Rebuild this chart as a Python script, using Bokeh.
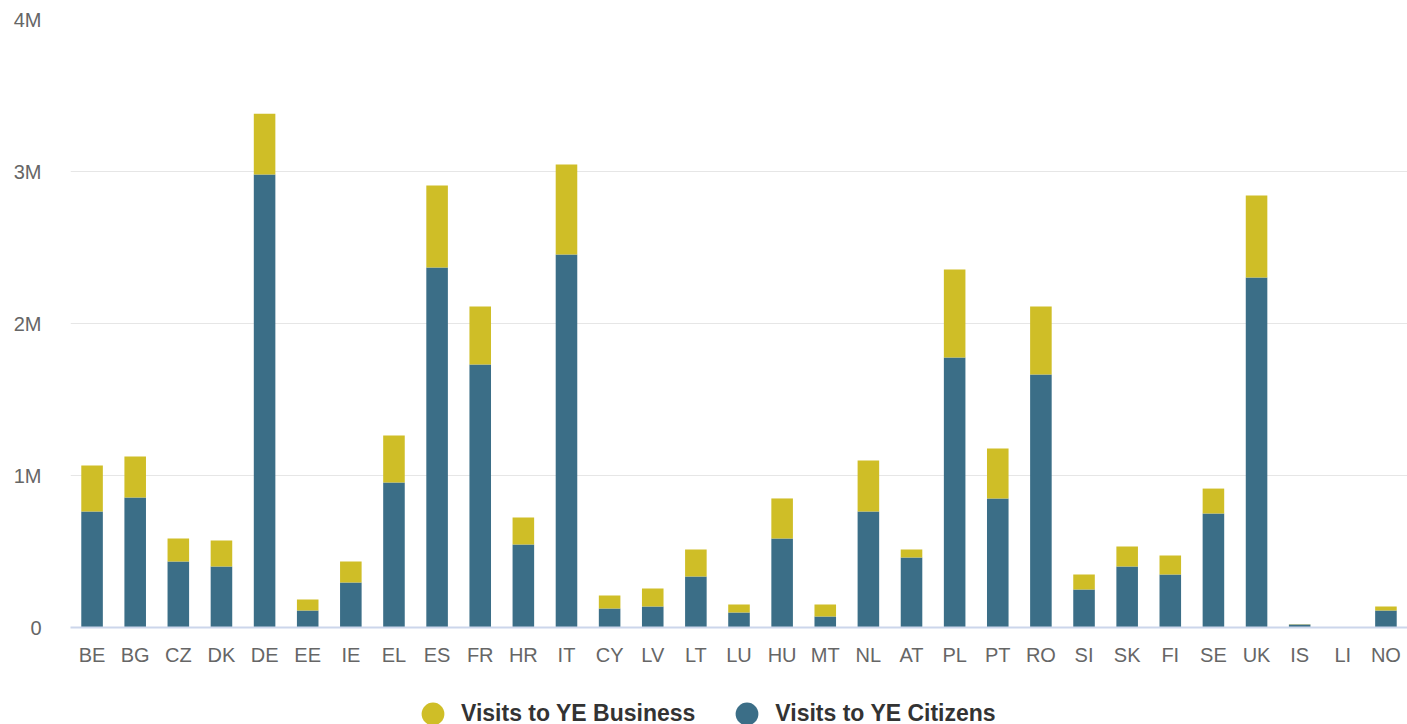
from bokeh.plotting import figure
from bokeh.layouts import column
from bokeh.models import ColumnDataSource, Legend, LegendItem, FixedTicker
from bokeh.embed import file_html
from bokeh.resources import INLINE

countries = ["BE", "BG", "CZ", "DK", "DE", "EE", "IE", "EL", "ES", "FR", "HR", "IT", "CY", "LV", "LT",
             "LU", "HU", "MT", "NL", "AT", "PL", "PT", "RO", "SI", "SK", "FI", "SE", "UK", "IS", "LI", "NO"]
citizens = [763000, 855000, 434000, 401000, 2980000, 112000, 296000, 954000, 2368000, 1730000, 546000,
            2454000, 125000, 138000, 336000, 99000, 586000, 72000, 763000, 461000, 1776000, 849000,
            1664000, 250000, 401000, 349000, 750000, 2303000, 20000, 0, 112000]
totals = [1066000, 1125000, 586000, 572000, 3380000, 184000, 434000, 1263000, 2908000, 2112000, 724000,
          3046000, 211000, 257000, 513000, 151000, 849000, 151000, 1099000, 513000, 2355000, 1178000,
          2112000, 349000, 533000, 474000, 914000, 2842000, 22000, 0, 138000]
business = [t - c for t, c in zip(totals, citizens)]
y_ticks = [0, 1000000, 2000000, 3000000, 4000000]
y_tick_labels = ["0", "1M", "2M", "3M", "4M"]
series_names = ["Visits to YE Business", "Visits to YE Citizens"]

BLUE = "#3b6e87"
YELLOW = "#cfbe27"
FONT = "Liberation Sans"

source = ColumnDataSource(dict(country=countries, citizens=citizens, business=business))

p = figure(x_range=countries, y_range=(0, 4000000), width=1407, height=680,
           output_backend="svg", toolbar_location=None,
           min_border_left=70, min_border_right=0, min_border_top=19, min_border_bottom=53)
p.outline_line_color = None

r = p.vbar_stack(["citizens", "business"], x="country", width=0.5, color=[BLUE, YELLOW],
                 line_color=None, source=source)

p.xgrid.grid_line_color = None
p.ygrid.grid_line_color = "#e6e6e6"
p.ygrid.grid_line_width = 1
p.yaxis.ticker = FixedTicker(ticks=y_ticks)
p.yaxis.major_label_overrides = {t: l for t, l in zip(y_ticks, y_tick_labels)}
p.yaxis.axis_line_color = None
p.yaxis.major_tick_line_color = None
p.yaxis.minor_tick_line_color = None
p.yaxis.major_label_standoff = 23
p.yaxis.major_label_text_font_size = "20px"
p.yaxis.major_label_text_color = "#666666"
p.yaxis.major_label_text_font = FONT

p.xaxis.axis_line_color = "#ccd6eb"
p.xaxis.axis_line_width = 2
p.xaxis.major_tick_line_color = None
p.xaxis.minor_tick_line_color = None
p.xaxis.major_label_standoff = 10
p.xaxis.major_label_text_font_size = "20px"
p.xaxis.major_label_text_color = "#666666"
p.xaxis.major_label_text_font = FONT
p.x_range.range_padding = 0

# legend strip below the chart
pl = figure(width=1407, height=60, x_range=(0, 1), y_range=(0, 1),
            output_backend="svg", toolbar_location=None,
            min_border_left=0, min_border_right=0, min_border_top=0, min_border_bottom=0)
pl.axis.visible = False
pl.grid.visible = False
pl.outline_line_color = None
d1 = pl.scatter(x=[-10], y=[-10], marker="circle", size=23, fill_color=YELLOW, line_color=None)
d2 = pl.scatter(x=[-10], y=[-10], marker="circle", size=23, fill_color=BLUE, line_color=None)

legend = Legend(items=[LegendItem(label=series_names[0], renderers=[d1]),
                       LegendItem(label=series_names[1], renderers=[d2])],
                orientation="horizontal", location=(334, -2),
                label_text_font=FONT, label_text_font_size="23px", label_text_font_style="bold",
                label_text_color="#333333", border_line_color=None, background_fill_alpha=0,
                spacing=23, glyph_width=57, glyph_height=57, label_standoff=-8,
                margin=0, padding=0)
pl.add_layout(legend, "center")

layout = column(p, pl, spacing=0)
open("out.html", "w").write(file_html(layout, INLINE))
